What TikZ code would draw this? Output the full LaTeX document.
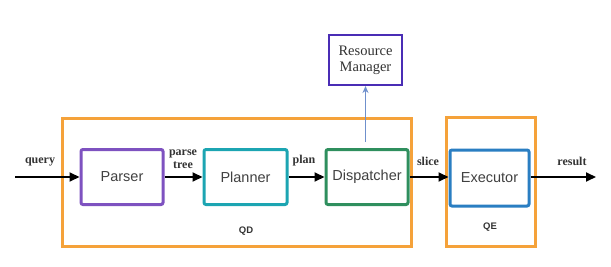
\documentclass[tikz,border=0pt]{standalone}
\usepackage{fontspec}
\setmainfont{Liberation Serif}
\setsansfont{Liberation Sans}
\usetikzlibrary{arrows.meta}
\definecolor{qorange}{HTML}{F5A23A}
\definecolor{qpurple}{HTML}{7E52C0}
\definecolor{qteal}{HTML}{1CA5B2}
\definecolor{qgreen}{HTML}{2F8F5E}
\definecolor{qblue}{HTML}{2A7EC2}
\definecolor{qindigo}{HTML}{4A2DB5}
\definecolor{qarrowblue}{HTML}{6F90CC}
\tikzset{
  comp/.style={draw, line width=3pt, rounded corners=2pt, font=\sffamily\fontsize{14.5}{16}\selectfont, text=black!75, inner sep=0pt},
  group/.style={draw=qorange, line width=3pt, inner sep=0pt},
  flow/.style={line width=1.9pt, -{Triangle[length=10pt,width=9pt]}},
  lbl/.style={font=\bfseries\fontsize{12}{12}\selectfont, text=black!80},
  grp/.style={font=\sffamily\bfseries\fontsize{9.5}{10}\selectfont, text=black!80}
}
\begin{document}
\begin{tikzpicture}[x=1pt,y=1pt]
\useasboundingbox (0,0) rectangle (611,266);
% groups
\node[group, minimum width=349, minimum height=128] (qd) at (236.5,84) {};
\node[group, minimum width=89, minimum height=129] (qe) at (490.5,84.5) {};
% components
\node[comp, draw=qpurple, minimum width=82, minimum height=55] (parser) at (122,89) {Parser};
\node[comp, draw=qteal, minimum width=83, minimum height=55] (planner) at (245.5,89) {Planner};
\node[comp, draw=qgreen, minimum width=82, minimum height=55] (disp) at (367,89) {Dispatcher};
\node[comp, draw=qblue, minimum width=79, minimum height=56] (exec) at (489.5,88) {Executor};
\node[draw=qindigo, line width=2pt, minimum width=73, minimum height=50, inner sep=0pt, align=center, font=\fontsize{14.5}{16}\selectfont, text=black!80] (rm) at (365.5,206) {Resource\\Manager};
% endpoints
\coordinate (qin) at (15,89);
\coordinate (rout) at (596,89);
\coordinate (rmstart) at (365.5,124);
% connectors
\draw[flow] (qin) -- (parser.west);
\draw[flow] (parser.east) -- (planner.west);
\draw[flow] (planner.east) -- (disp.west);
\draw[flow] (disp.east) -- (exec.west |- disp.east);
\draw[flow] (exec.east |- rout) -- (rout);
\draw[qarrowblue, line width=1.6pt, -{Stealth[length=7pt,width=6pt]}] (rmstart) -- (rm.south);
% labels
\node[lbl] (lq) at (40,104) {query};
\node[lbl, align=center, font=\bfseries\fontsize{12}{13}\selectfont] (lpt) at (183,107) {parse\\tree};
\node[lbl] (lp) at (304,105) {plan};
\node[lbl] (ls) at (428,105) {slice};
\node[lbl] (lr) at (572,105) {result};
\node[grp] (lqd) at (246,35) {QD};
\node[grp] (lqe) at (490,39) {QE};
\end{tikzpicture}
\end{document}
